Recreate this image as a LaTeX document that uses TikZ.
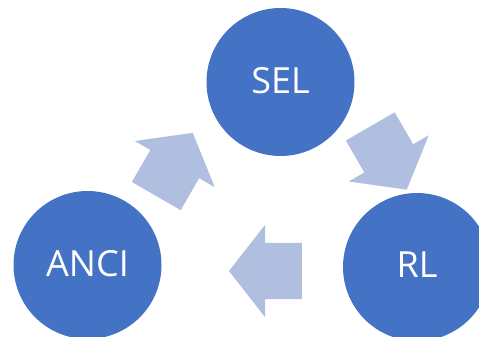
\documentclass[tikz,border=0pt]{standalone}
\usepackage{fontspec}
\setmainfont{Open Sans}
\usetikzlibrary{shapes.arrows}
\definecolor{CycBlue}{HTML}{4472C4}
\definecolor{CycPale}{HTML}{B0BEE0}

\begin{document}
\begin{tikzpicture}[
  x=1pt, y=-1pt,
  stage/.style={circle, fill=CycBlue, minimum size=148pt, inner sep=0pt, text=white, text depth=4pt, font=\fontsize{36}{40}\selectfont},
  flow/.style={single arrow, fill=CycPale, minimum height=73pt, single arrow head extend=18pt, single arrow tip angle=104, single arrow head indent=0pt, inner xsep=0pt, inner ysep=28pt},
]
\useasboundingbox (0,0) rectangle (479,337);
\node[stage] (sel) at (280.5,82) {SEL};
\node[stage] (rl) at (417,267) {RL};
\node[stage] (anci) at (87.5,265) {ANCI};
\node[flow, rotate=-60] (selrl) at (383,148.5) {};
\node[flow, rotate=180] (rlanci) at (276.5,271) {};
\node[flow, rotate=60] (ancisel) at (169,174) {};
\end{tikzpicture}
\end{document}
